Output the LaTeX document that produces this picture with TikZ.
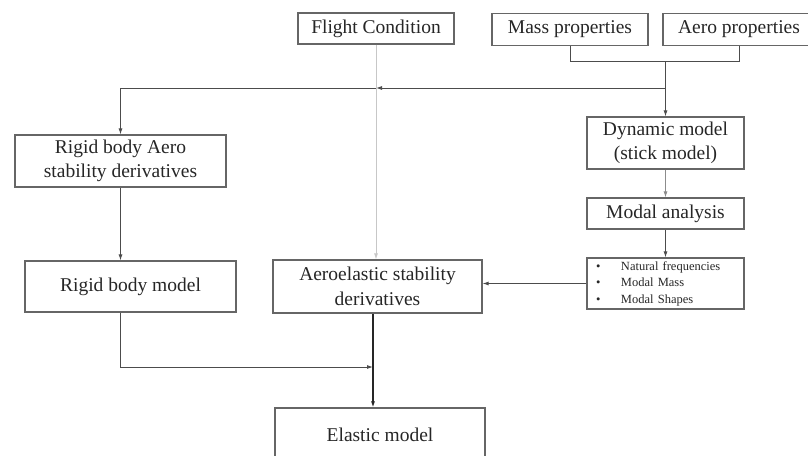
\documentclass[tikz,border=0pt]{standalone}
\usepackage{fontspec}
\setmainfont{Liberation Serif}
\usepackage{tikz}
\usetikzlibrary{arrows.meta, positioning, calc}

\begin{document}
\begin{tikzpicture}[x=1pt,y=-1pt,
    blk/.style={draw=black!60, line width=1.1pt, text=black!85, align=center,
        inner sep=0pt, font=\fontsize{19.5}{24.5}\selectfont},
    arr/.style={draw=black!70, line width=0.9pt, -{Latex[length=6pt,width=4pt]}},
    link/.style={draw=black!70, line width=0.9pt}]
\useasboundingbox (0,0) rectangle (808,455);
% Inputs
\node[blk, minimum width=156, minimum height=31] (flight) at (376,28.5) {Flight Condition};
\node[blk, minimum width=156, minimum height=32] (mass) at (570,29.5) {Mass properties};
\node[blk, minimum width=152, minimum height=32] (aero) at (739,29.5) {Aero properties};
% Right column
\node[blk, minimum width=157, minimum height=52] (dyn) at (665.5,143) {Dynamic model\\(stick model)};
\node[blk, minimum width=157, minimum height=31] (modal) at (665.5,213.5) {Modal analysis};
\node[blk, minimum width=157, minimum height=51, text width=139, align=left,
    font=\fontsize{12.5}{16.5}\selectfont] (modes) at (665.5,283.5)
    {\makebox[25pt][l]{\textbullet}Natural frequencies\\
     \makebox[25pt][l]{\textbullet}Modal Mass\\
     \makebox[25pt][l]{\textbullet}Modal Shapes};
% Left and middle
\node[blk, minimum width=211, minimum height=52] (rigaero) at (120.5,161) {Rigid body Aero\\stability derivatives};
\node[blk, minimum width=211, minimum height=51] (rigid) at (130.5,286.5) {Rigid body model};
\node[blk, minimum width=209, minimum height=53] (aeroel) at (377.5,286.5) {Aeroelastic stability\\derivatives};
\node[blk, minimum width=210, minimum height=54] (elastic) at (380,435) {Elastic model};
% Junctions
\coordinate (j1) at (665.5,61);
\coordinate (j2) at (376,88);
\coordinate (j3) at (373,367);
% Connectors
\draw[link] (mass.south) -- (mass.south |- j1) -- (aero.south |- j1) -- (aero.south);
\draw[arr] (j1) -- (dyn.north);
\draw[arr] (j1) |- (j2);
\draw[arr] (j2) -| (rigaero.north);
\draw[arr, draw=black!22] (flight.south) -- (flight.south |- aeroel.north);
\draw[arr, draw=black!45] (dyn) -- (modal);
\draw[arr] (modal) -- (modes);
\draw[arr] (modes.west) -- (modes.west -| aeroel.east);
\draw[arr] (rigaero.south) -- (rigaero.south |- rigid.north);
\draw[arr] (rigaero.south |- rigid.south) |- (j3);
\draw[arr, line width=1.4pt, draw=black!85] (aeroel.south -| j3) -- (elastic.north -| j3);
\end{tikzpicture}
\end{document}
